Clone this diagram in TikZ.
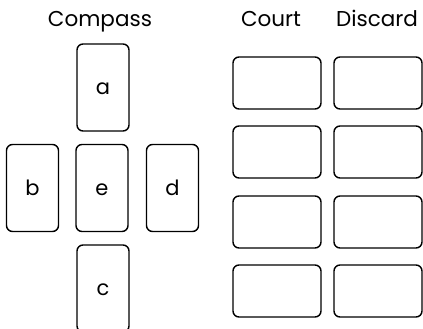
\documentclass[tikz,border=0pt]{standalone}
\usepackage{fontspec}
\setmainfont{Poppins}
\begin{document}
\begin{tikzpicture}[x=1pt,y=-1pt,
  card/.style={draw=black, line width=1.4pt, rounded corners=6pt, fill=white,
    inner sep=0pt, text height=14pt, text depth=0pt, font=\fontsize{21}{24}\selectfont},
  tallcard/.style={card, minimum width=52pt, minimum height=87pt},
  widecard/.style={card, minimum width=88pt, minimum height=52pt},
  heading/.style={anchor=base, inner sep=0pt, font=\fontsize{21.5}{24}\selectfont}]
\useasboundingbox (0,0) rectangle (423,329);
\clip (0,0) rectangle (423,329);
% headings
\node[heading] (hcompass) at (100,27) {Compass};
\node[heading] (hcourt) at (271,27) {Court};
\node[heading] (hdiscard) at (377,27) {Discard};
% compass cards
\node[tallcard] (a) at (103,87.5) {a};
\node[tallcard] (b) at (32.5,188) {b};
\node[tallcard] (e) at (102,188) {e};
\node[tallcard] (d) at (172.5,188) {d};
\node[tallcard] (c) at (103,288.5) {c};
% court and discard
\foreach \i/\y in {1/83,2/152,3/222,4/291}{
  \node[widecard] (court\i) at (277,\y) {};
  \node[widecard] (discard\i) at (378,\y) {};
}
\end{tikzpicture}
\end{document}
